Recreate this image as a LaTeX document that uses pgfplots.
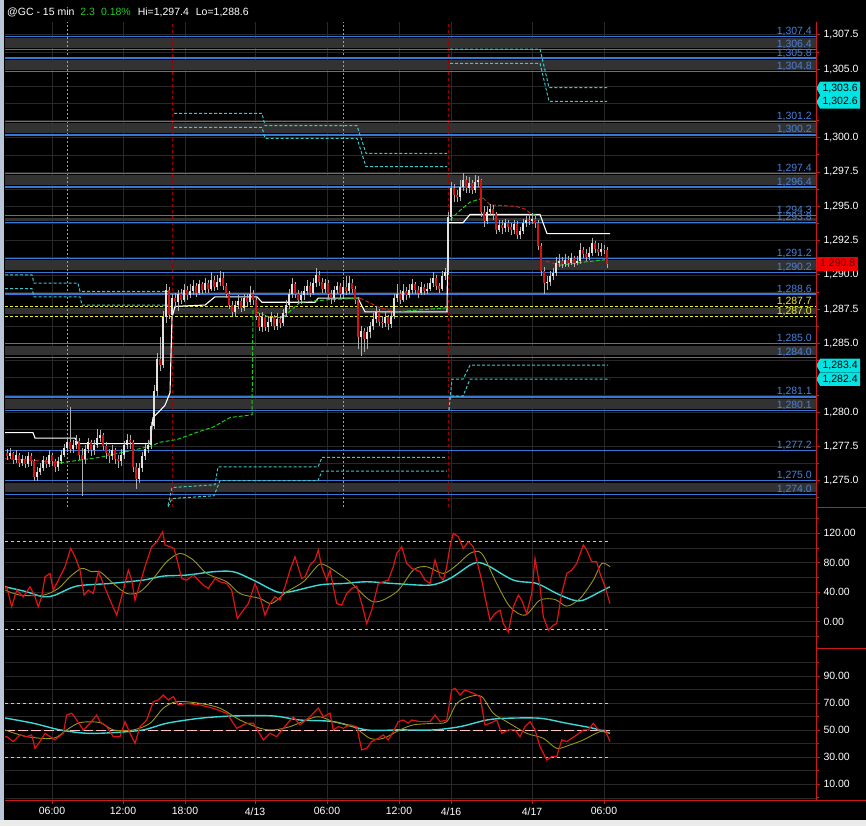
\documentclass[border=0pt]{standalone}
\usepackage{pgfplots}
\pgfplotsset{compat=1.18}
\usepackage{pgfplotstable}
\usepackage{fontspec}
\setmainfont{Liberation Sans}
\usetikzlibrary{shapes.symbols}

\definecolor{gridc}{RGB}{40,40,40}
\definecolor{axred}{RGB}{205,25,25}
\definecolor{lvlblue}{RGB}{55,120,215}
\definecolor{lvltext}{RGB}{70,130,220}
\definecolor{band}{RGB}{50,50,50}
\definecolor{pivcyan}{RGB}{60,200,200}
\definecolor{tagcyan}{RGB}{0,228,228}
\definecolor{upc}{RGB}{225,225,225}
\definecolor{dnc}{RGB}{210,20,20}
\definecolor{wickc}{RGB}{175,175,175}
\definecolor{vwapg}{RGB}{30,200,30}
\definecolor{vwapr}{RGB}{200,30,30}
\definecolor{oscred}{RGB}{225,20,20}
\definecolor{oscolive}{RGB}{150,150,30}
\definecolor{osccyan}{RGB}{60,215,215}
\definecolor{lvlyellow}{RGB}{235,235,40}
\definecolor{titlegreen}{RGB}{40,200,40}
\definecolor{leftstrip}{RGB}{185,198,215}

\newcommand{\lblfont}{\fontsize{10.5}{12}\selectfont}

\pgfplotstableread{
x o h l c
7 1277.0 1277.3 1276.5 1276.8
10 1276.8 1277.4 1276.6 1277.0
13 1277.0 1277.1 1276.2 1276.5
16 1276.5 1277.2 1276.3 1276.9
19 1276.9 1277.0 1276.0 1276.3
22 1276.3 1276.9 1276.1 1276.6
25 1276.6 1276.8 1275.9 1276.2
28 1276.2 1277.1 1276.0 1276.8
31 1276.8 1277.0 1276.1 1276.4
34 1276.4 1276.6 1275.0 1275.3
37 1275.3 1276.0 1275.0 1275.6
40 1275.6 1276.3 1275.4 1275.9
43 1275.9 1276.8 1275.7 1276.5
46 1276.5 1276.7 1275.9 1276.2
49 1276.2 1277.2 1276.0 1276.9
52 1276.9 1277.0 1276.1 1276.4
55 1276.4 1276.6 1275.6 1276.0
58 1276.0 1276.7 1275.7 1276.4
61 1276.4 1277.2 1276.2 1276.9
64 1276.9 1277.7 1276.7 1277.4
67 1277.4 1278.2 1277.1 1277.8
70 1277.8 1280.4 1277.0 1277.3
73 1277.3 1278.0 1277.0 1277.6
76 1277.6 1278.3 1277.3 1277.9
79 1277.9 1278.1 1276.5 1276.9
82 1276.9 1277.4 1273.9 1276.6
85 1276.6 1277.6 1276.2 1277.3
88 1277.3 1278.1 1277.0 1277.8
91 1277.8 1278.0 1276.8 1277.2
94 1277.2 1278.0 1276.9 1277.6
97 1277.6 1278.8 1277.4 1278.1
100 1278.1 1278.7 1277.8 1278.3
103 1278.3 1278.5 1277.2 1277.5
106 1277.5 1277.8 1276.6 1277.0
109 1277.0 1277.3 1276.3 1276.8
112 1276.8 1277.6 1276.5 1277.2
115 1277.2 1277.4 1276.2 1276.6
118 1276.6 1276.9 1275.9 1276.4
121 1276.4 1277.3 1276.1 1276.9
124 1276.9 1277.9 1276.6 1277.6
127 1277.6 1278.4 1277.3 1278.0
130 1278.0 1278.3 1277.3 1277.8
133 1277.8 1278.0 1275.6 1276.0
136 1276.0 1276.3 1274.4 1275.1
139 1275.1 1276.3 1274.8 1275.9
142 1275.9 1277.1 1275.6 1276.8
145 1276.8 1277.7 1276.5 1277.3
148 1277.3 1278.0 1277.0 1277.6
151 1277.6 1279.3 1277.3 1279.0
154 1279.0 1282.0 1278.8 1281.5
157 1281.5 1284.3 1281.2 1283.9
160 1283.9 1285.5 1283.0 1283.4
163 1283.4 1287.4 1283.2 1286.9
166 1286.9 1289.3 1286.5 1288.9
169 1288.9 1289.1 1286.8 1287.1
172 1287.1 1288.6 1286.8 1288.3
175 1288.3 1288.7 1287.6 1288.0
178 1288.0 1288.9 1287.4 1288.6
181 1288.6 1289.0 1287.9 1288.2
184 1288.2 1289.3 1288.0 1288.9
187 1288.9 1289.2 1288.2 1288.5
190 1288.5 1289.3 1288.3 1288.8
193 1288.8 1289.6 1288.5 1289.2
196 1289.2 1289.4 1288.4 1288.7
199 1288.7 1289.6 1288.5 1289.3
202 1289.3 1289.5 1288.6 1288.9
205 1288.9 1289.8 1288.7 1289.4
208 1289.4 1289.6 1288.7 1289.0
211 1289.0 1290.2 1288.8 1289.6
214 1289.6 1289.9 1288.8 1289.1
217 1289.1 1290.0 1288.9 1289.5
220 1289.5 1290.3 1289.2 1289.8
223 1289.8 1290.2 1288.9 1289.2
226 1289.2 1289.4 1288.3 1288.6
229 1288.6 1288.8 1287.5 1287.8
232 1287.8 1288.1 1287.0 1287.3
235 1287.3 1288.1 1286.9 1287.8
238 1287.8 1288.5 1287.5 1288.1
241 1288.1 1288.3 1287.3 1287.6
244 1287.6 1288.6 1287.4 1288.3
247 1288.3 1288.6 1287.7 1288.0
250 1288.0 1289.2 1287.8 1288.6
253 1288.6 1288.9 1287.8 1288.2
256 1288.2 1288.4 1286.7 1287.0
259 1287.0 1287.2 1285.9 1286.2
262 1286.2 1287.3 1285.8 1286.9
265 1286.9 1287.1 1285.9 1286.2
268 1286.2 1287.0 1285.8 1286.6
271 1286.6 1287.3 1286.3 1286.9
274 1286.9 1287.1 1286.0 1286.3
277 1286.3 1287.2 1286.0 1286.8
280 1286.8 1287.0 1286.1 1286.5
283 1286.5 1287.5 1286.3 1287.2
286 1287.2 1288.2 1286.9 1287.8
289 1287.8 1289.0 1287.5 1288.6
292 1288.6 1289.8 1288.3 1289.3
295 1289.3 1289.5 1288.3 1288.6
298 1288.6 1288.9 1287.9 1288.2
301 1288.2 1288.8 1287.9 1288.5
304 1288.5 1289.2 1288.2 1288.8
307 1288.8 1289.6 1288.5 1289.2
310 1289.2 1289.5 1288.4 1288.7
313 1288.7 1289.8 1288.5 1289.4
316 1289.4 1290.5 1289.1 1290.0
319 1290.0 1290.3 1289.2 1289.5
322 1289.5 1289.8 1288.7 1289.0
325 1289.0 1289.7 1288.7 1289.4
328 1289.4 1289.6 1288.3 1288.6
331 1288.6 1288.9 1287.9 1288.3
334 1288.3 1289.2 1288.0 1288.9
337 1288.9 1289.5 1288.6 1289.2
340 1289.2 1289.4 1288.3 1288.6
343 1288.6 1289.6 1288.4 1289.1
346 1289.1 1289.9 1288.5 1288.8
349 1288.8 1289.9 1288.6 1289.4
352 1289.4 1289.7 1288.7 1289.0
355 1289.0 1289.2 1287.9 1288.2
358 1288.2 1288.4 1284.6 1285.5
361 1285.5 1286.3 1284.1 1285.9
364 1285.9 1286.1 1284.4 1285.3
367 1285.3 1286.2 1284.6 1285.8
370 1285.8 1286.6 1285.4 1286.3
373 1286.3 1287.2 1286.0 1286.8
376 1286.8 1287.7 1286.5 1287.3
379 1287.3 1287.5 1286.3 1286.6
382 1286.6 1287.0 1286.1 1286.5
385 1286.5 1287.3 1286.2 1286.9
388 1286.9 1287.1 1286.0 1286.4
391 1286.4 1287.4 1286.1 1287.0
394 1287.0 1288.6 1286.8 1288.3
397 1288.3 1289.3 1288.0 1288.6
400 1288.6 1288.9 1287.9 1288.2
403 1288.2 1289.3 1288.0 1288.8
406 1288.8 1289.1 1288.2 1288.5
409 1288.5 1289.3 1288.3 1288.9
412 1288.9 1289.7 1288.6 1289.3
415 1289.3 1289.5 1288.6 1288.9
418 1288.9 1289.2 1288.3 1288.7
421 1288.7 1289.5 1288.5 1289.1
424 1289.1 1289.3 1288.5 1288.8
427 1288.8 1289.4 1288.6 1289.0
430 1289.0 1289.8 1288.8 1289.4
433 1289.4 1290.2 1289.1 1289.8
436 1289.8 1290.0 1288.9 1289.2
439 1289.2 1289.4 1288.7 1289.0
442 1289.0 1290.3 1288.8 1289.9
445 1289.9 1290.5 1289.6 1290.2
448 1290.2 1294.6 1290.0 1294.2
451 1294.2 1296.8 1293.9 1296.3
454 1296.3 1296.6 1295.3 1295.8
457 1295.8 1296.2 1295.3 1295.7
460 1295.7 1296.9 1295.4 1296.4
463 1296.4 1297.4 1296.1 1296.9
466 1296.9 1297.2 1296.0 1296.3
469 1296.3 1297.1 1296.0 1296.7
472 1296.7 1296.9 1295.9 1296.2
475 1296.2 1297.3 1296.0 1296.8
478 1296.8 1297.2 1296.4 1296.9
481 1296.9 1297.0 1294.2 1294.6
484 1294.6 1295.0 1293.5 1293.9
487 1293.9 1295.0 1293.7 1294.6
490 1294.6 1295.2 1294.3 1294.8
493 1294.8 1295.1 1294.0 1294.4
496 1294.4 1294.6 1293.0 1293.3
499 1293.3 1294.0 1293.1 1293.6
502 1293.6 1294.0 1293.0 1293.4
505 1293.4 1294.1 1293.1 1293.8
508 1293.8 1294.0 1293.1 1293.5
511 1293.5 1293.8 1292.9 1293.3
514 1293.3 1294.0 1293.0 1293.7
517 1293.7 1293.9 1292.6 1292.9
520 1292.9 1293.5 1292.6 1293.2
523 1293.2 1294.1 1293.0 1293.8
526 1293.8 1294.3 1293.5 1294.0
529 1294.0 1294.4 1293.6 1293.9
532 1293.9 1294.5 1293.7 1294.1
535 1294.1 1294.3 1293.4 1293.8
538 1293.8 1294.0 1291.8 1292.1
541 1292.1 1292.3 1289.9 1290.3
544 1290.3 1290.6 1288.6 1289.4
547 1289.4 1289.9 1288.9 1289.5
550 1289.5 1290.3 1289.2 1289.9
553 1289.9 1290.5 1289.6 1290.1
556 1290.1 1291.3 1289.9 1290.9
559 1290.9 1291.5 1290.6 1291.0
562 1291.0 1291.3 1290.5 1290.8
565 1290.8 1291.5 1290.6 1291.1
568 1291.1 1291.4 1290.6 1290.9
571 1290.9 1291.6 1290.7 1291.2
574 1291.2 1291.4 1290.6 1290.9
577 1290.9 1291.4 1290.7 1291.0
580 1291.0 1292.3 1290.8 1291.8
583 1291.8 1292.0 1291.2 1291.5
586 1291.5 1291.9 1291.0 1291.3
589 1291.3 1292.0 1291.1 1291.6
592 1291.6 1292.7 1291.4 1292.3
595 1292.3 1292.5 1291.6 1291.9
598 1291.9 1292.3 1291.4 1291.7
601 1291.7 1292.3 1291.4 1291.9
604 1291.9 1292.2 1291.5 1291.8
607 1291.8 1292.0 1290.5 1290.8
}\candles

\pgfplotstableread{
x v
5 45
6.7 47.4
11.7 20.2
16.7 42.9
23.3 33.8
30 47.4
35 33.8
38.3 20.2
41.7 33.8
45 61
50 65.5
53.3 42.9
58.3 56.5
65 74.6
70.7 99.5
75 88.2
80 70.1
84 36.1
88.3 42.9
93.3 38.3
98.3 67.8
103.3 51.9
110 29.3
116.7 8.8
123.3 42.9
128.3 70.1
131.7 56.5
135 29.3
140 51.9
145 74.6
151.7 101.8
156.7 108.6
162.7 122.2
165 104.1
170 101.8
174 99.5
176.7 85.9
181.7 58.7
186.7 56.5
193.3 63.3
198.3 56.5
203.3 49.7
208.3 45.1
215 58.7
220 54.2
226.7 51.9
231.7 42.9
237.3 4.3
243.3 15.6
248.3 24.7
255 51.9
260 33.8
265 8.8
270 24.7
275 33.8
280 29.3
285 47.4
290 70.1
295 88.2
301.7 58.7
305 61
310 76.9
315 83.7
318.3 97.3
321.7 74.6
326.7 56.5
330 70.1
333.3 47.4
336.7 24.7
341.7 22.4
346.7 38.3
351.7 45.1
356.7 48.3
361.7 24.7
366.7 -2.5
371.7 15.6
378.3 51.9
383.3 54.2
388.3 56.5
393.3 74.6
396.7 92.7
401.7 101.8
406.7 79.1
411.7 72.3
416.7 70.1
420 67.8
425 56.5
430 51.9
435 83.7
440 61
443.3 56.5
446.7 74.6
450 101.8
453.3 120
458.3 115.4
463.3 99.5
468.3 108.6
473.3 101.8
478.3 74.6
481.7 56.5
485 33.8
490 2
495 11.1
500 15.6
503.3 -2.5
508.3 -13.8
513.3 20.2
518.3 36.1
521.7 29.3
526.7 11.1
531.7 38.3
535 85.9
540 47.4
543.3 6.6
548.3 -11.6
553.3 -4.8
556.7 -2.5
561.7 38.3
566.7 65.5
571.7 70.1
576.7 79.1
583.3 104.1
586.7 97.3
591.7 81.4
596.7 81.4
600 65.5
605 47.4
610 24.7
}\oscAred

\pgfplotstableread{
x v
5 43
20 36.1
43.3 36.1
58.3 45.1
70 61
81.7 72.3
91.7 67.8
100 67.8
113.3 51.9
126.7 38.3
140 40.6
153.3 58.7
166.7 81.4
180 92.7
193.3 83.7
206.7 65.5
226.7 54.2
240 38.3
260 31.5
271.7 24.7
286.7 40.6
303.3 54.2
318.3 76.9
325 76.9
333.3 70.1
350 54.2
373.3 27
396.7 40.6
413.3 70.1
426.7 74.6
443.3 65.5
456.7 76.9
470 92.7
481.7 92.7
496.7 51.9
510 20.2
525 8.8
540 29.3
555 30.2
566.7 21.1
580 31.5
593.3 56.5
601.7 79.1
610 74.6
}\oscAolive

\pgfplotstableread{
x v
5 47.4
26.7 40.6
43.3 33.8
55 36.1
76.7 48.3
110 51.9
143.3 56.5
163.3 61.9
186.7 63.3
213.3 67.8
233.3 67.8
253.3 56.5
276.7 40.6
290 40.6
320 50
343.3 51.9
366.7 54.2
393.3 51.9
430 49.7
450 58.7
473.3 79.1
486.7 76.9
513.3 56.5
536.7 51.9
556.7 38.3
573.3 29.3
583.3 29.3
600 40.6
610 47.4
}\oscAcyan

\pgfplotstableread{
x v
5 45
6.7 45.2
13.3 41.6
20 46.5
26.7 45.2
31.7 46.5
35 36.6
40 41.6
45 47.7
50 45.2
55 42.8
63.3 47.7
66.7 61.2
71.7 62.5
76.7 57.5
83.3 50.2
90 55.1
96.7 61.2
100 56.3
106.7 52.6
113.3 45.2
120 45.2
125 56.3
130 47.7
135 40.3
140 52.6
146.7 57.5
153.3 71.1
158.3 72.3
163.3 76
168.3 72.3
173.3 74.8
178.3 68.6
186.7 69.8
200 68.6
213.3 66.2
226.7 62.5
236.7 51.4
246.7 55.1
253.3 55.1
263.3 42.8
270 47.7
276.7 45.2
283.3 51.4
293.3 59.9
300 53.9
310 59.9
313.3 62.5
318.3 66.2
323.3 59.9
330 62.5
333.3 50.2
338.3 52.6
343.3 51.4
350 53.9
356.7 52.6
361.7 35.4
366.7 36.6
371.7 41.6
378.3 44
383.3 46.5
388.3 42.8
393.3 48.9
398.3 56.3
403.3 57.5
408.3 55.1
411.7 57.5
420 56.3
430 56.3
435 61.2
440 56.3
446.7 57.5
451.7 79.7
455 80.9
460 76
465 79.7
473.3 77.2
480 74.8
485 53.9
490 55.1
496.7 57.5
501.7 47.7
508.3 50.2
515 50.2
520 45.2
525 52.6
530 56.3
535 50.2
540 37.9
546.7 28
551.7 30.5
556.7 30.5
561.7 42.8
566.7 41.6
576.7 46.5
583.3 50.2
588.3 50.2
593.3 55.1
598.3 50.2
605 50.2
610 41.6
}\oscBred

\pgfplotstableread{
x v
5 50.2
26.7 45.2
53.3 44
66.7 50.2
80 55.6
100 55.6
113.3 50.2
133.3 50.2
150 55.1
163.3 66.2
176.7 71.1
200 69.8
220 66.2
240 57.5
260 51.4
273.3 50.2
290 52.6
316.7 59.9
333.3 56.3
353.3 52.6
370 44
383.3 44
400 50.2
413.3 53.9
433.3 55.1
446.7 56.3
456.7 69.8
470 74.8
481.7 74.8
493.3 62.5
506.7 56.3
526.7 47.7
543.3 44
556.7 36.6
570 39.1
583.3 42.8
600 48.9
610 47.7
}\oscBolive

\pgfplotstableread{
x v
5 59
33.3 55.1
60 50.2
86.7 47.7
113.3 48.2
143.3 50.2
166.7 55.1
200 58.8
233.3 60.5
273.3 60.5
300 57.5
333.3 56.3
366.7 50.2
400 50.2
433.3 50.2
460 52.6
486.7 57.5
506.7 58.8
540 58.8
566.7 55.1
593.3 51.4
610 47.7
}\oscBcyan

\pgfplotsset{
  panel/.style={
    scale only axis, width=811pt, xmin=5, xmax=816,
    axis line style={draw=none},
    xtick={52,123,185,255,327,399,451,532,604},
    grid=both,
    major grid style={draw=gridc, line width=0.6pt},
    minor grid style={draw=gridc, line width=0.6pt},
    ytick pos=right, yticklabel pos=right,
    tick align=outside,
    major tick length=4pt, minor tick length=3pt,
    tick style={draw=axred, line width=0.8pt},
    yticklabel style={font=\lblfont, text=white},
    xticklabel style={font=\lblfont, text=white},
    /pgf/number format/assume math mode=true,
    scaled y ticks=false,
    clip mode=individual,
  },
  lvl/.style={lvlblue, line width=1.2pt, forget plot},
  pivot/.style={pivcyan, line width=1pt, dash pattern=on 3pt off 2pt, forget plot},
  bandf/.style={fill=band, draw=none, forget plot},
}
\tikzset{
  pricetag/.style={signal, signal to=west, signal pointer angle=120, fill=tagcyan, text=black, font=\lblfont, inner xsep=2.5pt, inner ysep=2pt, minimum height=13.5pt, anchor=west},
}

\begin{document}
\begin{tikzpicture}
\fill[black] (0pt,0pt) rectangle (866pt,-826pt);
\useasboundingbox (0pt,0pt) rectangle (866pt,-826pt);
\fill[leftstrip] (0pt,0pt) rectangle (4pt,-820pt);
\fill[black!8] (0pt,-820pt) rectangle (866pt,-826pt);

% ---------------- main price panel ----------------
\begin{axis}[panel, at={(5pt,-507pt)}, anchor=south west, height=485pt,
  ymin=1273.08, ymax=1308.43,
  ytick={1275,1277.5,...,1307.5},
  minor ytick={1273.75,1276.25,...,1306.25},
  xticklabels={}, xmajorticks=false,
  yticklabel style={/pgf/number format/fixed, /pgf/number format/fixed zerofill, /pgf/number format/precision=1, /pgf/number format/1000 sep={,}},
]
% bands
\addplot[bandf] coordinates {(5,1307.25) (816,1307.25) (816,1306.55) (5,1306.55)} -- cycle;
\addplot[bandf] coordinates {(5,1305.65) (816,1305.65) (816,1304.95) (5,1304.95)} -- cycle;
\addplot[bandf] coordinates {(5,1301.05) (816,1301.05) (816,1300.35) (5,1300.35)} -- cycle;
\addplot[bandf] coordinates {(5,1297.25) (816,1297.25) (816,1296.55) (5,1296.55)} -- cycle;
\addplot[bandf] coordinates {(5,1294.18) (816,1294.18) (816,1293.92) (5,1293.92)} -- cycle;
\addplot[bandf] coordinates {(5,1291.05) (816,1291.05) (816,1290.35) (5,1290.35)} -- cycle;
\addplot[bandf] coordinates {(5,1287.57) (816,1287.57) (816,1287.13) (5,1287.13)} -- cycle;
\addplot[bandf] coordinates {(5,1284.85) (816,1284.85) (816,1284.15) (5,1284.15)} -- cycle;
\addplot[bandf] coordinates {(5,1280.95) (816,1280.95) (816,1280.25) (5,1280.25)} -- cycle;
\addplot[bandf] coordinates {(5,1274.85) (816,1274.85) (816,1274.15) (5,1274.15)} -- cycle;

% session dividers
\addplot[pivcyan, line width=0.8pt, dash pattern=on 2pt off 2pt, forget plot] coordinates {(67,1273.08) (67,1308.43)};
\addplot[pivcyan, line width=0.8pt, dash pattern=on 2pt off 2pt, forget plot] coordinates {(343,1273.08) (343,1308.43)};
\addplot[red!60!black, line width=0.8pt, dash pattern=on 3pt off 3pt, forget plot] coordinates {(172,1273.08) (172,1308.43)};
\addplot[red!60!black, line width=0.8pt, dash pattern=on 3pt off 3pt, forget plot] coordinates {(448,1273.08) (448,1308.43)};

% level lines and labels
\pgfplotsinvokeforeach{1307.4,1306.4,1305.8,1304.8,1301.2,1300.2,1297.4,1296.4,1294.3,1293.8,1291.2,1290.2,1288.6,1285.0,1284.0,1281.1,1280.1,1277.2,1275.0,1274.0}{
  \addplot[lvl] coordinates {(5,#1) (816,#1)};
  \node[anchor=base east, text=lvltext, font=\lblfont, inner sep=0pt, yshift=2pt] at (axis cs:812,#1) {\pgfmathprintnumber[fixed,fixed zerofill,precision=1,1000 sep={,},assume math mode=true]{#1}};
}
\pgfplotsinvokeforeach{1287.7,1287.0}{
  \addplot[lvlyellow, line width=1pt, dash pattern=on 3pt off 2pt, forget plot] coordinates {(5,#1) (816,#1)};
  \node[anchor=base east, text=lvlyellow, font=\lblfont, inner sep=0pt, yshift=2pt] at (axis cs:812,#1) {\pgfmathprintnumber[fixed,fixed zerofill,precision=1,1000 sep={,},assume math mode=true]{#1}};
}

% pivot-style cyan dashed steps
\addplot[pivot] coordinates {(5,1290.0) (32,1290.0) (34,1289.4) (78,1289.4) (80,1288.8) (170,1288.8)};
\addplot[pivot] coordinates {(5,1289.0) (32,1289.0) (34,1288.4) (80,1288.4) (82,1287.8) (170,1287.8)};
\addplot[pivot] coordinates {(174,1301.77) (262,1301.77) (265,1300.87) (357,1300.87) (366,1298.86) (447,1298.86)};
\addplot[pivot] coordinates {(174,1300.75) (262,1300.75) (265,1299.95) (357,1299.95) (366,1297.88) (447,1297.88)};
\addplot[pivot] coordinates {(168,1273.2) (172,1274.5) (215,1274.7) (218,1276.0) (318,1276.0) (322,1276.7) (447,1276.7)};
\addplot[pivot] coordinates {(168,1273.1) (172,1273.7) (214,1273.9) (220,1275.0) (318,1275.0) (322,1275.7) (447,1275.7)};
\addplot[pivot] coordinates {(450,1306.46) (540,1306.46) (549,1303.65) (607,1303.65)};
\addplot[pivot] coordinates {(450,1305.42) (540,1305.42) (549,1302.65) (607,1302.65)};
\addplot[pivot] coordinates {(449,1280.14) (452,1282.4) (463,1282.4) (470,1283.42) (608,1283.42)};
\addplot[pivot] coordinates {(449,1280.14) (450,1281.16) (463,1281.16) (470,1282.4) (610,1282.4)};

% white trailing line
\addplot[white, line width=1.1pt, forget plot] coordinates {(5,1278.5) (33,1278.5) (35,1278.1) (75,1278.1) (78,1277.7) (150,1277.7) (153,1279.6) (160,1280.1) (165,1280.5) (170,1281.4) (172,1286.9) (175,1287.7) (205,1287.8) (215,1288.4) (257,1288.4) (262,1288.0) (315,1288.0) (318,1288.3) (358,1288.3) (365,1287.3) (447,1287.3) (448,1293.8) (463,1293.8) (470,1294.4) (540,1294.4) (547,1293.0) (610,1293.0)};

% session average line (green rising / red falling)
\addplot[vwapr, line width=1pt, dash pattern=on 4pt off 2pt, forget plot] coordinates {(5,1276.6) (30,1276.5) (60,1276.3)};
\addplot[vwapg, line width=1pt, dash pattern=on 4pt off 2pt, forget plot] coordinates {(60,1276.3) (100,1276.7) (150,1277.5) (160,1277.8) (177,1278.0) (200,1278.6) (213,1278.9) (230,1279.6) (252,1279.8) (253,1287.4) (270,1286.9) (283,1286.9) (300,1288.0) (330,1288.2) (360,1288.3)};
\addplot[vwapr, line width=1pt, dash pattern=on 4pt off 2pt, forget plot] coordinates {(360,1288.3) (380,1287.6) (395,1287.3)};
\addplot[vwapg, line width=1pt, dash pattern=on 4pt off 2pt, forget plot] coordinates {(395,1287.3) (447,1287.6)};
\addplot[vwapg, line width=1pt, dash pattern=on 4pt off 2pt, forget plot] coordinates {(450,1294.0) (460,1294.7) (470,1295.3) (483,1295.6)};
\addplot[vwapr, line width=1pt, dash pattern=on 4pt off 2pt, forget plot] coordinates {(483,1295.6) (490,1295.1) (515,1295.0) (525,1294.8) (532,1294.4)};
\addplot[vwapg, line width=1pt, dash pattern=on 4pt off 2pt, forget plot] coordinates {(532,1294.4) (540,1294.3)};
\addplot[vwapr, line width=1pt, dash pattern=on 4pt off 2pt, forget plot] coordinates {(546,1291.0) (560,1290.7)};
\addplot[vwapg, line width=1pt, dash pattern=on 4pt off 2pt, forget plot] coordinates {(560,1290.7) (580,1290.9) (605,1291.1)};

% candles: wicks
\addplot[draw=none, mark=none, forget plot,
  error bars/.cd, y dir=minus, y explicit, error mark=none,
  error bar style={draw=wickc, line width=0.7pt}]
  table[x=x, y=h, y error minus expr=\thisrow{h}-\thisrow{l}] {\candles};
% up bodies
\addplot[draw=none, mark=none, forget plot,
  restrict expr to domain={\thisrow{c}-\thisrow{o}}{0:100},
  error bars/.cd, y dir=minus, y explicit, error mark=none,
  error bar style={draw=upc, line width=2.4pt}]
  table[x=x, y=c, y error minus expr=\thisrow{c}-\thisrow{o}] {\candles};
% down bodies
\addplot[draw=none, mark=none, forget plot,
  restrict expr to domain={\thisrow{c}-\thisrow{o}}{-100:-0.001},
  error bars/.cd, y dir=plus, y explicit, error mark=none,
  error bar style={draw=dnc, line width=2.4pt}]
  table[x=x, y=c, y error plus expr=\thisrow{o}-\thisrow{c}] {\candles};

% right-side tags
\node[pricetag] at (axis cs:816,1303.6) {1,303.6};
\node[pricetag] at (axis cs:816,1302.6) {1,302.6};
\node[pricetag] at (axis cs:816,1283.4) {1,283.4};
\node[pricetag] at (axis cs:816,1282.4) {1,282.4};
\node[fill=red!95!black, text=red!35!black, font=\lblfont, inner xsep=3pt, inner ysep=2pt, minimum height=13.5pt, anchor=west] at (axis cs:817,1290.8) {1,290.8};
\end{axis}

% ---------------- oscillator 1 ----------------
\begin{axis}[panel, at={(5pt,-648pt)}, anchor=south west, height=141pt,
  ymin=-35.7, ymax=155.7,
  ytick={0,40,80,120}, minor ytick={-20,20,60,100,140},
  xticklabels={}, xmajorticks=false,
  yticklabel style={/pgf/number format/fixed, /pgf/number format/fixed zerofill, /pgf/number format/precision=2},
]
\addplot[white!80!black, line width=0.8pt, dash pattern=on 3pt off 3pt, forget plot] coordinates {(5,108.6) (610,108.6)};
\addplot[white!80!black, line width=0.8pt, dash pattern=on 3pt off 3pt, forget plot] coordinates {(5,-10.4) (610,-10.4)};
\addplot[osccyan, line width=1.4pt, smooth, forget plot] table[x=x,y=v] {\oscAcyan};
\addplot[oscolive, line width=0.9pt, smooth, forget plot] table[x=x,y=v] {\oscAolive};
\addplot[oscred, line width=1.2pt, forget plot] table[x=x,y=v] {\oscAred};
\end{axis}

% ---------------- oscillator 2 ----------------
\begin{axis}[panel, at={(5pt,-800pt)}, anchor=south west, height=152pt,
  ymin=-1.6, ymax=110.7,
  ytick={10,30,50,70,90}, minor ytick={0,20,40,60,80,100},
  xtick pos=bottom,
  xticklabels={06:00,12:00,18:00,4/13,06:00,12:00,4/16,4/17,06:00},
  yticklabel style={/pgf/number format/fixed, /pgf/number format/fixed zerofill, /pgf/number format/precision=2},
]
\addplot[white!80!black, line width=0.8pt, dash pattern=on 3pt off 3pt, forget plot] coordinates {(5,70) (610,70)};
\addplot[white!80!black, line width=0.8pt, dash pattern=on 3pt off 3pt, forget plot] coordinates {(5,30) (610,30)};
\addplot[red!25!white, line width=0.8pt, dash pattern=on 10pt off 3pt, forget plot] coordinates {(5,50) (610,50)};
\addplot[osccyan, line width=1.4pt, smooth, forget plot] table[x=x,y=v] {\oscBcyan};
\addplot[oscolive, line width=0.9pt, smooth, forget plot] table[x=x,y=v] {\oscBolive};
\addplot[oscred, line width=1.2pt, forget plot] table[x=x,y=v] {\oscBred};
\end{axis}

% axis frame lines
\draw[axred, line width=1pt] (816pt,-22pt) -- (816pt,-800pt);
\draw[axred, line width=1pt] (5pt,-800pt) -- (866pt,-800pt);
\draw[axred, line width=1pt] (816pt,-507pt) -- (866pt,-507pt);
\draw[axred, line width=1pt] (816pt,-648pt) -- (866pt,-648pt);

% title
\node[anchor=west, text=white, font=\lblfont, inner sep=0pt] at (7pt,-12.5pt) {@GC - 15 min\hspace{6pt}\textcolor{titlegreen}{2.3\hspace{6pt}0.18\%}\hspace{7pt}Hi=1,297.4\hspace{7pt}Lo=1,288.6};
\end{tikzpicture}
\end{document}
